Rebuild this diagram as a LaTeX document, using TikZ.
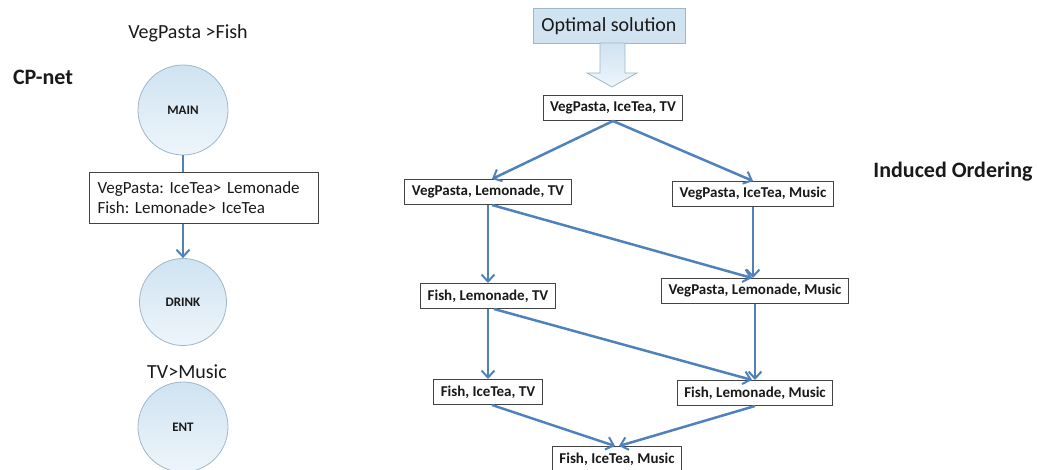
\documentclass[tikz,border=0pt]{standalone}
\usepackage{fontspec}
\setmainfont{Carlito}
\usetikzlibrary{arrows.meta}
\definecolor{edgeblue}{HTML}{4F81BD}
\definecolor{nodeline}{HTML}{9FB7CA}
\definecolor{ballTop}{HTML}{CFE3F1}
\definecolor{ballBot}{HTML}{EEF5FB}
\definecolor{boxline}{HTML}{444444}
\frenchspacing
\tikzset{
  ball/.style={circle, draw=nodeline, line width=0.8pt, minimum size=90pt,
    top color=ballTop, bottom color=ballBot, font=\fontsize{13}{15}\selectfont\bfseries, text=black!90},
  outcome/.style={draw=boxline, line width=1pt, fill=white, inner xsep=7pt,
    minimum height=25pt, font=\fontsize{15}{17}\selectfont\bfseries, text=black!90},
  cpt/.style={draw=boxline, line width=1pt, fill=white, align=left, inner xsep=8pt,
    text width=213pt, minimum height=51pt, font=\fontsize{17}{20}\selectfont, text=black!90},
  flip/.style={draw=edgeblue, line width=2.5pt, -{Straight Barb[length=7pt,width=13pt,line width=2pt]}},
  plain/.style={font=\fontsize{20}{24}\selectfont, text=black!90},
  heading/.style={font=\fontsize{22}{26}\selectfont\bfseries, text=black!90}
}
\begin{document}
\begin{tikzpicture}[x=1pt,y=-1pt]
  \useasboundingbox (0,0) rectangle (1037,470);

  % CP-net on the left
  \node[heading] (cpnet) at (43,77) {CP-net};
  \node[plain] (prefmain) at (188,33) {VegPasta >Fish};
  \node[ball] (main) at (183,110) {MAIN};
  \node[cpt] (table) at (204,198) {VegPasta: IceTea> Lemonade\\Fish: Lemonade> IceTea};
  \node[ball, minimum size=87pt] (drink) at (183,302) {DRINK};
  \node[plain] (prefent) at (187,372) {TV>Music};
  \node[ball] (ent) at (183,427) {ENT};

  \draw[edgeblue, line width=2.5pt] (main.south) -- (main.south |- table.north);
  \draw[flip] (drink.north |- table.south) -- (drink.north);

  % induced ordering on the right
  \node[heading] (induced) at (953,172) {Induced Ordering};
  \node[draw=nodeline, line width=0.9pt, top color=ballTop, bottom color=ballTop!80!edgeblue!60,
        minimum width=152pt, minimum height=35pt, font=\fontsize{20}{24}\selectfont, text=black!90]
        (optimal) at (609,26) {Optimal solution};
  \draw[draw=nodeline, line width=0.8pt, top color=ballTop, bottom color=ballBot]
    (600,43) -- (625,43) -- (625,73) -- (637,73) -- (612,87) -- (587,73) -- (600,73) -- cycle;

  \node[outcome] (vit) at (613,108) {VegPasta, IceTea, TV};
  \node[outcome] (vlt) at (488,192) {VegPasta, Lemonade, TV};
  \node[outcome] (vim) at (753,194) {VegPasta, IceTea, Music};
  \node[outcome] (flt) at (488,296) {Fish, Lemonade, TV};
  \node[outcome] (vlm) at (755,291) {VegPasta, Lemonade, Music};
  \node[outcome] (fit) at (488,392) {Fish, IceTea, TV};
  \node[outcome] (flm) at (755,393) {Fish, Lemonade, Music};
  \node[outcome] (fim) at (617,459) {Fish, IceTea, Music};

  \draw[flip] (vit.south) -- ([xshift=4pt]vlt.north);
  \draw[flip] (vit.south) -- (vim.north);
  \draw[flip] (vlt.south) -- (vlt.south |- flt.north);
  \draw[flip] ([xshift=4pt]vlt.south) -- ([xshift=-3pt]vlm.north);
  \draw[flip] (vim.south) -- (vim.south |- vlm.north);
  \draw[flip] (flt.south) -- (flt.south |- fit.north);
  \draw[flip] ([xshift=6pt]flt.south) -- ([xshift=-3pt]flm.north);
  \draw[flip] (vlm.south) -- (vlm.south |- flm.north);
  \draw[flip] ([xshift=4pt]fit.south) -- ([xshift=-2pt]fim.north);
  \draw[flip] (flm.south) -- ([xshift=2pt]fim.north);
\end{tikzpicture}
\end{document}
